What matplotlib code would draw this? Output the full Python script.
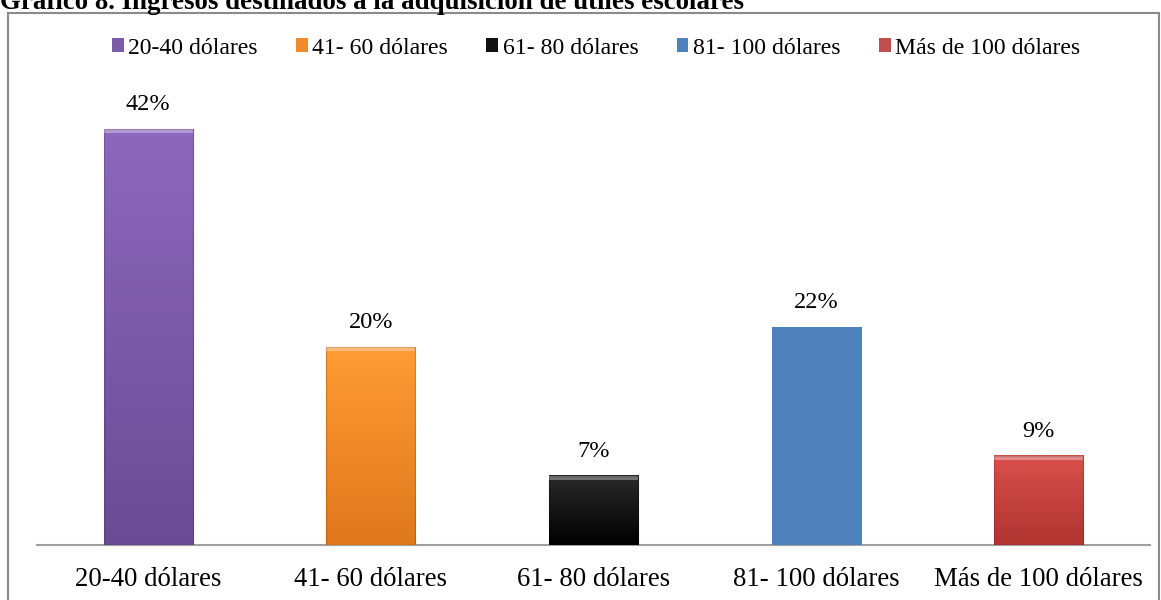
import matplotlib

matplotlib.use("Agg")
import matplotlib.pyplot as plt  # noqa: E402
import numpy as np  # noqa: E402
from matplotlib.colors import LinearSegmentedColormap  # noqa: E402
from matplotlib.patches import Patch, Rectangle  # noqa: E402

TITLE = "Gráfico 8. Ingresos destinados a la adquisición de útiles escolares"
categories = ["20-40 dólares", "41- 60 dólares", "61- 80 dólares",
              "81- 100 dólares", "Más de 100 dólares"]
percent = [42, 20, 7, 22, 9]
# (top, bottom) shade per bar; the blue one is flat
shades = [("#8c68bc", "#6a4c94"), ("#ff9c34", "#e0781c"), ("#2a2a2a", "#000000"),
          ("#4f81bd", "#4f81bd"), ("#d8504c", "#b03430")]
legend_colors = ["#7b5ca8", "#f08a2c", "#111111", "#4f81bd", "#c0504d"]

plt.rcParams["font.family"] = ["Liberation Serif", "DejaVu Serif"]

fig = plt.figure(figsize=(11.61, 6), dpi=100)
W, H = 1161, 600

# outer chart frame and the caption running off the top edge
fig.patches.append(Rectangle((8 / W, -0.05), (1159 - 8) / W, 1.05 - 13 / H,
                             transform=fig.transFigure, fill=False,
                             edgecolor="#8a8a8a", lw=1.5))
fig.text(0.0, 1 - 9 / H, TITLE, fontsize=19.4, fontweight="bold",
         ha="left", va="baseline")

ax = fig.add_axes([37 / W, 1 - 545 / H, (1150 - 37) / W, (545 - 80) / H])
x = np.arange(len(categories))
width = 0.4
ax.set_xlim(-0.5, len(categories) - 0.5)
ax.set_ylim(0, 46.97)

for xi, val, (c_top, c_bot) in zip(x, percent, shades):
    cmap = LinearSegmentedColormap.from_list("bar", [c_bot, c_top])
    grad = np.linspace(0, 1, 64).reshape(-1, 1)
    ax.imshow(grad, cmap=cmap, aspect="auto", origin="lower",
              extent=(xi - width / 2, xi + width / 2, 0, val), zorder=2)
    if c_top != c_bot:
        # bevel highlight along the top edge
        ax.add_patch(Rectangle((xi - width / 2, val - 0.4), width, 0.4,
                               facecolor="white", alpha=0.35, lw=0, zorder=3))
        ax.add_patch(Rectangle((xi - width / 2, 0), width, val, fill=False,
                               edgecolor="black", alpha=0.15, lw=1, zorder=3))
    ax.annotate(f"{val}%", (xi, val), xytext=(0, 10), textcoords="offset points",
                ha="center", va="bottom", fontsize=17.5)

ax.set_xticks(x)
ax.set_xticklabels(categories, fontsize=19.3)
ax.tick_params(axis="x", length=0, pad=16)
ax.set_yticks([])
for side in ("top", "right", "left"):
    ax.spines[side].set_visible(False)
ax.spines["bottom"].set_color("#a0a0a0")
ax.spines["bottom"].set_linewidth(1.5)
ax.spines["bottom"].set_zorder(1)

handles = [Patch(facecolor=c, edgecolor="none") for c in legend_colors]
fig.legend(handles, categories, loc="center", bbox_to_anchor=(596 / W, 1 - 48 / H),
           ncol=5, frameon=False, fontsize=17.1, handlelength=0.5,
           handleheight=0.5, handletextpad=0.2, columnspacing=1.6)

fig.savefig("out.png", dpi=100)
